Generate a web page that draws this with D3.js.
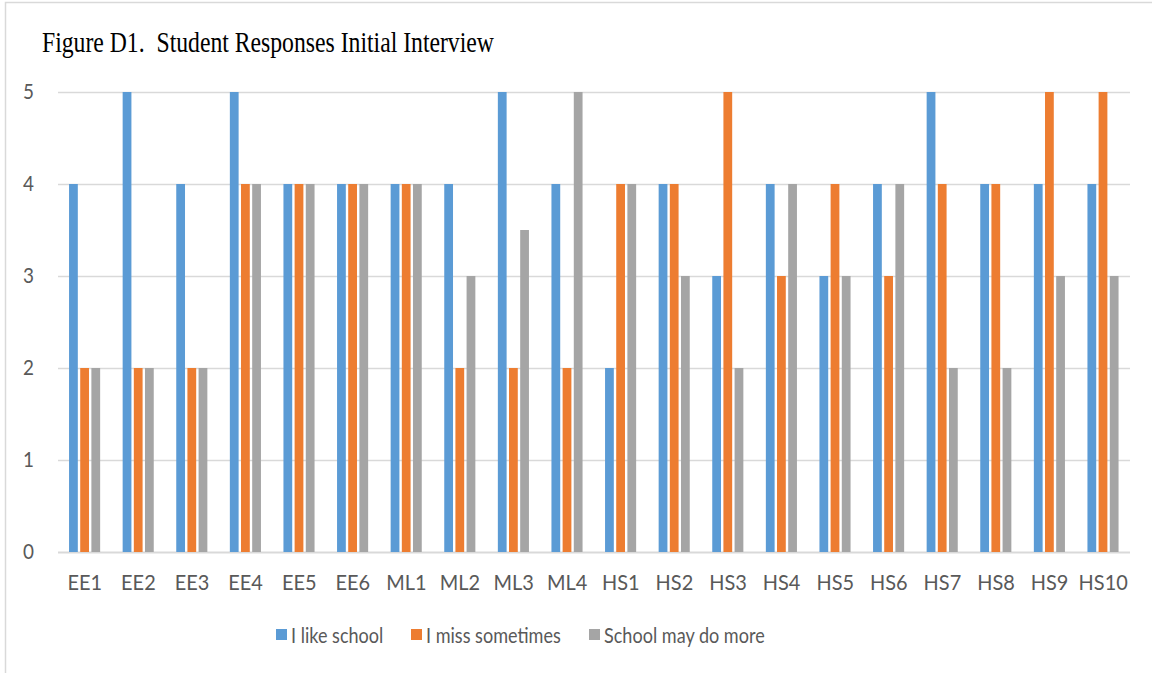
<!DOCTYPE html>
<html>
<head>
<meta charset="utf-8">
<script src="https://cdn.jsdelivr.net/npm/d3@7"></script>
<style>
  html, body { margin: 0; padding: 0; background: #fff; }
  svg { display: block; }
</style>
</head>
<body>
<svg id="chart" width="1152" height="673"></svg>
<script>
// Student identifiers along the x axis
const students = ["EE1","EE2","EE3","EE4","EE5","EE6","ML1","ML2","ML3","ML4",
                  "HS1","HS2","HS3","HS4","HS5","HS6","HS7","HS8","HS9","HS10"];

// Series names and colours
const seriesNames = ["I like school", "I miss sometimes", "School may do more"];
const seriesColors = ["#5b9bd5", "#ed7d31", "#a5a5a5"];

// Ratings per student, one array per series
const likeSchool    = [4,5,4,5,4,4,4,4,5,4, 2,4,3,4,3,4,5,4,4,4];
const missSometimes = [2,2,2,4,4,4,4,2,2,2, 4,4,5,3,4,3,4,4,5,5];
const schoolMoreDo  = [2,2,2,4,4,4,4,3,3.5,5, 4,3,2,4,3,4,2,2,3,3];

const yTicks = [0,1,2,3,4,5];

const seriesValues = [likeSchool, missSometimes, schoolMoreDo];

const svg = d3.select("#chart");
const W = 1152, H = 673;
const margin = { left: 58, right: 22, top: 92, bottom: 121 };
const plotW = W - margin.left - margin.right;
const plotH = H - margin.top - margin.bottom;

const textFont = "Lato, 'Open Sans', sans-serif";
const textColor = "#595959";

// Chart frame
svg.append("rect")
  .attr("x", 5.5).attr("y", 2.5)
  .attr("width", W + 10).attr("height", H + 10)
  .attr("fill", "#fff").attr("stroke", "#d9d9d9").attr("stroke-width", 1.5);

// Title (narrow serif rendering)
svg.append("text")
  .attr("transform", "translate(42,52) scale(0.79,1)")
  .attr("font-family", "'Liberation Serif', 'Times New Roman', serif")
  .attr("font-size", 30)
  .attr("fill", "#000")
  .style("white-space", "pre")
  .text("Figure D1.  Student Responses Initial Interview");

const g = svg.append("g").attr("transform", `translate(${margin.left},${margin.top})`);

const x = d3.scaleBand().domain(students).range([0, plotW]).paddingInner(0.375).paddingOuter(0.1875);
const xs = d3.scaleBand().domain(d3.range(seriesNames.length)).range([0, x.bandwidth()]).padding(0);
const y = d3.scaleLinear().domain([0, 5]).range([plotH, 0]);

// Horizontal gridlines
g.append("g")
  .selectAll("line")
  .data(yTicks)
  .join("line")
  .attr("x1", 0).attr("x2", plotW)
  .attr("y1", d => Math.round(y(d)) + 0.5)
  .attr("y2", d => Math.round(y(d)) + 0.5)
  .attr("stroke", "#d9d9d9")
  .attr("stroke-width", d => d === 0 ? 2 : 1.5);

// Y axis labels
const yAxis = d3.axisLeft(y).tickValues(yTicks).tickSize(0).tickPadding(24).tickFormat(d3.format("d"));
g.append("g").call(yAxis)
  .call(s => s.select(".domain").remove())
  .selectAll("text")
  .attr("font-family", textFont).attr("font-size", 21).attr("fill", textColor)
  .attr("transform", "scale(0.9,1)")
  .attr("x", -24 / 0.9);

// X axis labels
const xAxis = d3.axisBottom(x).tickSize(0).tickPadding(23);
g.append("g").attr("transform", `translate(0,${plotH})`).call(xAxis)
  .call(s => s.select(".domain").remove())
  .selectAll("text")
  .attr("font-family", textFont).attr("font-size", 21).attr("fill", textColor)
  .attr("transform", "scale(0.95,1)");

// Bars
const groups = g.append("g")
  .selectAll("g")
  .data(students)
  .join("g")
  .attr("transform", d => `translate(${x(d)},0)`);

groups.selectAll("rect")
  .data((d, i) => seriesValues.map((vals, s) => ({ s, v: vals[i] })))
  .join("rect")
  .attr("x", d => xs(d.s) + 1)
  .attr("width", xs.bandwidth() - 2.4)
  .attr("y", d => y(d.v))
  .attr("height", d => y(0) - y(d.v))
  .attr("fill", d => seriesColors[d.s]);

// Legend
const legendX = [276, 411, 589];
const legend = svg.append("g").attr("transform", "translate(0,629)");
seriesNames.forEach((name, i) => {
  legend.append("rect")
    .attr("x", legendX[i]).attr("y", 0)
    .attr("width", 11).attr("height", 11)
    .attr("fill", seriesColors[i]);
  legend.append("text")
    .attr("transform", `translate(${legendX[i] + 15},13.5) scale(0.86,1)`)
    .attr("font-family", textFont).attr("font-size", 21)
    .attr("fill", textColor)
    .text(name);
});
</script>
</body>
</html>
